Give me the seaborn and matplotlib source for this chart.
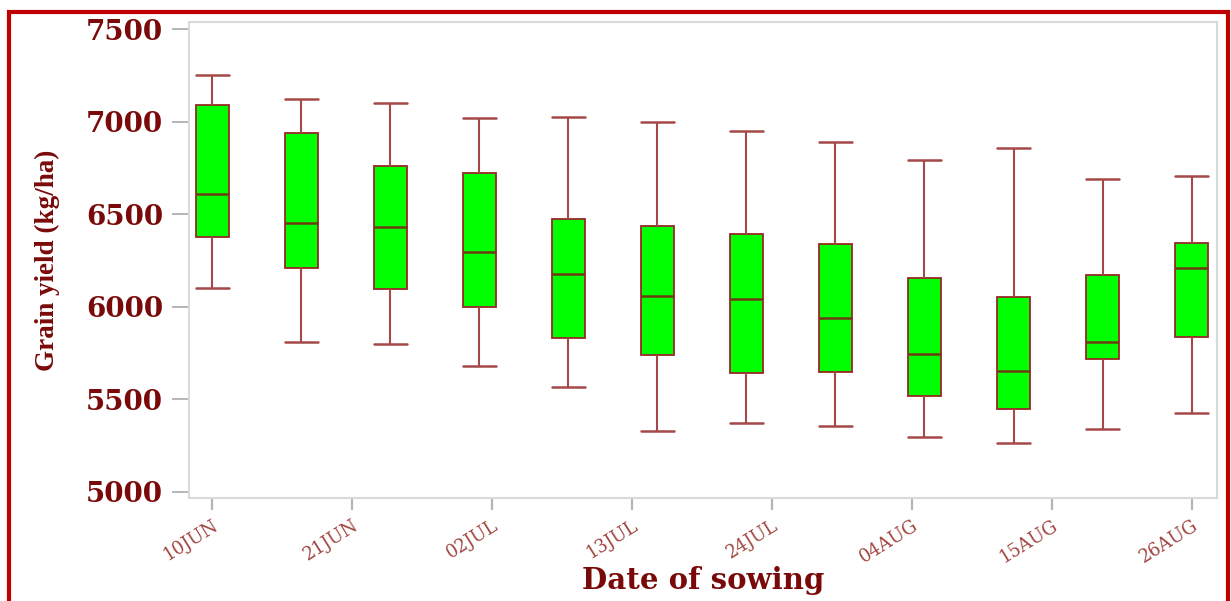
import numpy as np
import pandas as pd
import matplotlib
matplotlib.use("Agg")
import matplotlib.pyplot as plt
from matplotlib.patches import Rectangle
import seaborn as sns

# Sowing dates (weekly) and five-number summaries of grain yield (kg/ha)
sowing_dates = ["2000-06-10", "2000-06-17", "2000-06-24", "2000-07-01",
                "2000-07-08", "2000-07-15", "2000-07-22", "2000-07-29",
                "2000-08-05", "2000-08-12", "2000-08-19", "2000-08-26"]
yield_min = [6100, 5810, 5800, 5680, 5565, 5330, 5370, 5357, 5295, 5262, 5337, 5424]
yield_q1 = [6375, 6209, 6094, 5997, 5831, 5741, 5640, 5645, 5519, 5449, 5716, 5838]
yield_median = [6609, 6454, 6429, 6294, 6175, 6056, 6042, 5941, 5746, 5652, 5811, 6208]
yield_q3 = [7089, 6941, 6761, 6721, 6474, 6438, 6395, 6341, 6157, 6054, 6171, 6343]
yield_max = [7251, 7123, 7103, 7020, 7027, 6997, 6950, 6889, 6791, 6860, 6689, 6708]

tick_dates = ["2000-06-10", "2000-06-21", "2000-07-02", "2000-07-13",
              "2000-07-24", "2000-08-04", "2000-08-15", "2000-08-26"]
tick_labels = ["10JUN", "21JUN", "02JUL", "13JUL", "24JUL", "04AUG", "15AUG", "26AUG"]
y_ticks = [5000, 5500, 6000, 6500, 7000, 7500]

origin = pd.Timestamp(sowing_dates[0])
days = [(pd.Timestamp(d) - origin).days for d in sowing_dates]
tick_days = [(pd.Timestamp(d) - origin).days for d in tick_dates]

rows = []
for d, lo, q1, md, q3, hi in zip(days, yield_min, yield_q1, yield_median, yield_q3, yield_max):
    for v in (lo, q1, md, q3, hi):
        rows.append({"day": d, "yield": v})
df = pd.DataFrame(rows)

sns.set_theme(style="white")
plt.rcParams["font.family"] = ["DejaVu Serif", "DejaVu Sans"]

fig = plt.figure(figsize=(12.31, 6.01), dpi=100)
ax = fig.add_axes([0.1533, 0.1714, 0.8353, 0.7925])

box_w = 0.37
edge = "#9A2626"
whisk = "#A54848"
sns.boxplot(data=df, x="day", y="yield", native_scale=True, orient="x",
            whis=(0, 100), width=box_w, color="#00FF00", saturation=1,
            linecolor=edge, linewidth=1.3, showfliers=False,
            medianprops=dict(color="#6E3A12", linewidth=1.8),
            whiskerprops=dict(color=whisk, linewidth=1.5),
            capprops=dict(color=whisk, linewidth=1.8),
            capwidths=box_w * 7, ax=ax)

ax.set_xlim(-1.86, 79.0)
ax.set_ylim(4966, 7540)

ax.set_yticks(y_ticks)
ax.set_yticklabels([str(v) for v in y_ticks], fontsize=20, fontweight="bold",
                   color="#7A0A0A")
ax.set_xticks(tick_days)
ax.set_xticklabels(tick_labels, rotation=32, ha="right", rotation_mode="anchor",
                   fontsize=13, color="#A0453F")

ax.tick_params(axis="y", which="major", left=True, length=12.5, width=1.4,
               color="#B5B5B5", pad=6)
ax.tick_params(axis="x", which="major", bottom=True, length=8.5, width=1.6,
               color="#B5B5B5", pad=5)

for s in ax.spines.values():
    s.set_visible(True)
    s.set_color("#D9D9D9")
    s.set_linewidth(1.5)

ax.set_ylabel("Grain yield (kg/ha)", fontsize=19.5, fontweight="bold",
              color="#7A0A0A", family=["Liberation Serif", "DejaVu Serif"])
ax.yaxis.set_label_coords(-0.125, 0.5)
ax.set_xlabel("Date of sowing", fontsize=21, fontweight="bold", color="#7A0A0A")
ax.xaxis.set_label_coords(0.5, -0.142)

# Red frame around the whole figure
fig.add_artist(Rectangle((0.0073, -0.05), 0.9903, 1.03,
                         transform=fig.transFigure, fill=False,
                         edgecolor="#C00000", linewidth=3.0, clip_on=False))

fig.savefig("out.png", dpi=100, facecolor="white")
